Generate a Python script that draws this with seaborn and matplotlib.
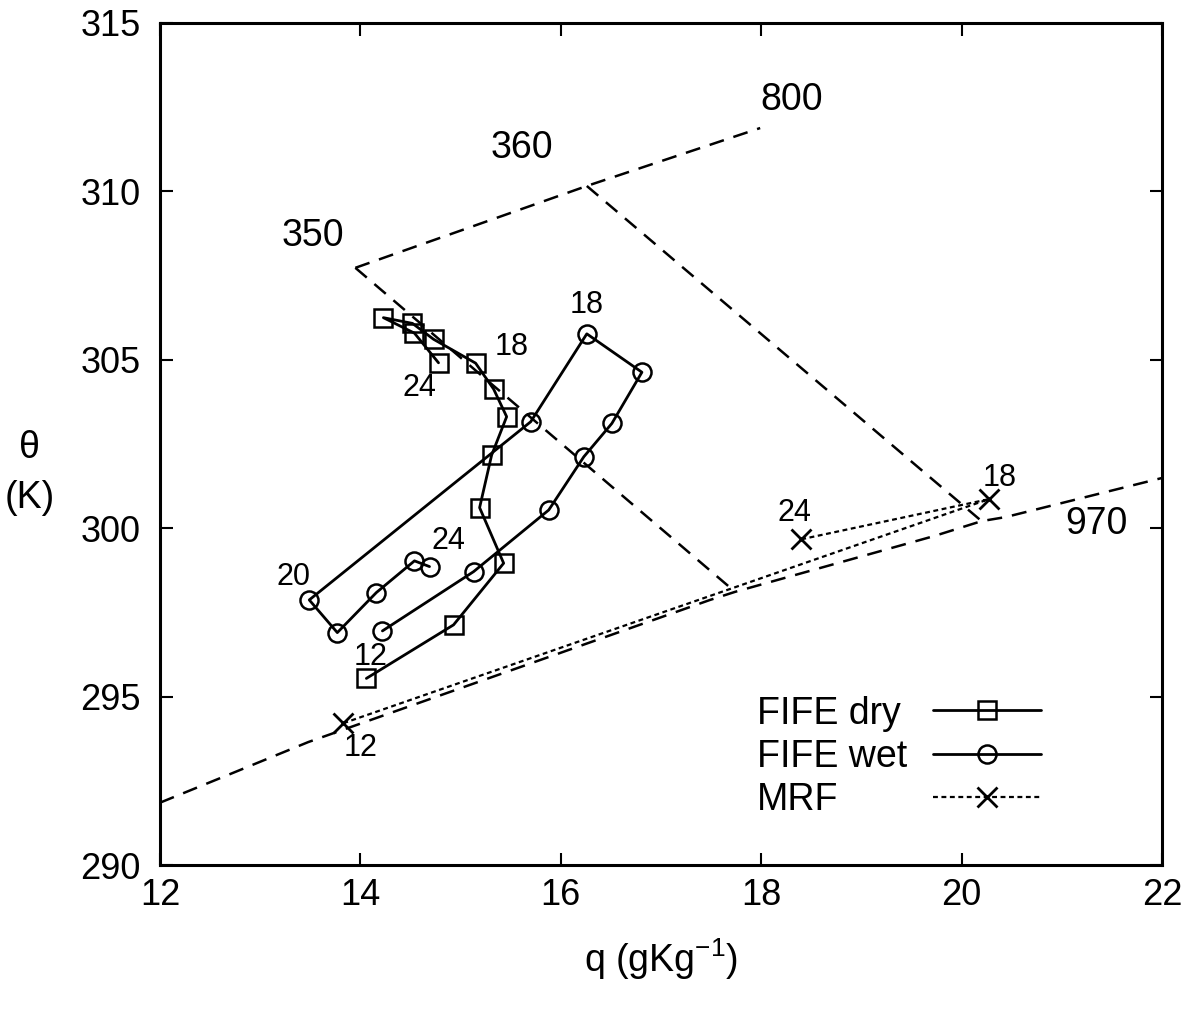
import matplotlib
matplotlib.use("Agg")
import matplotlib.pyplot as plt
from matplotlib.lines import Line2D
import seaborn as sns
import pandas as pd

# FIFE composite diurnal paths (hourly, 12 to 24 local time)
hours = list(range(12, 25))
dry_q = [14.06, 14.93, 15.43, 15.19, 15.31, 15.46, 15.33, 15.15, 14.73, 14.52, 14.23, 14.54, 14.78]
dry_theta = [295.54, 297.13, 298.96, 300.61, 302.17, 303.31, 304.13, 304.90, 305.61, 306.08, 306.25, 305.79, 304.91]
wet_q = [14.22, 15.13, 15.88, 16.23, 16.51, 16.81, 16.26, 15.70, 13.49, 13.77, 14.16, 14.54, 14.69]
wet_theta = [296.95, 298.71, 300.54, 302.12, 303.11, 304.63, 305.77, 303.16, 297.87, 296.90, 298.09, 299.03, 298.86]

# MRF model path
mrf_hours = [12, 18, 24]
mrf_q = [13.83, 20.27, 18.40]
mrf_theta = [294.21, 300.86, 299.67]

# Reference isopleths: saturation at 800 and 970 mb, theta_e = 350 and 360 K
sat800_q = [13.95, 16.26, 17.99]
sat800_theta = [307.73, 310.16, 311.88]
sat970_q = [12.0, 12.7, 13.48, 17.49, 17.74, 19.73, 20.20, 20.44, 22.0]
sat970_theta = [291.85, 292.70, 293.65, 297.87, 298.11, 299.77, 300.21, 300.33, 301.49]
te350_q = [13.95, 17.74]
te350_theta = [307.73, 298.11]
te360_q = [16.26, 20.20]
te360_theta = [310.16, 300.21]

# Hour labels placed next to selected points
hour_labels = ["12", "18", "24", "20", "18", "24", "12", "18", "24"]
hour_label_q = [14.10, 15.51, 14.59, 13.33, 16.26, 14.88, 14.00, 20.38, 18.33]
hour_label_theta = [296.18, 305.38, 304.16, 298.55, 306.63, 299.62, 293.47, 301.49, 300.45]

isopleth_labels = ["350", "360", "800", "970"]
isopleth_label_q = [13.53, 15.61, 18.30, 21.35]
isopleth_label_theta = [308.68, 311.29, 312.71, 300.12]

sns.set_theme(style="white")
plt.rcParams["font.family"] = ["Liberation Sans", "DejaVu Sans"]
plt.rcParams["mathtext.fontset"] = "custom"
plt.rcParams["mathtext.rm"] = "Liberation Sans"
plt.rcParams["text.color"] = "black"
plt.rcParams["axes.labelcolor"] = "black"
plt.rcParams["xtick.color"] = "black"
plt.rcParams["ytick.color"] = "black"

fig = plt.figure(figsize=(11.92, 10.11), dpi=100)
ax = fig.add_axes([0.1342, 0.1444, 0.8406, 0.8329])

dash_style = (0, (6, 4))
guides = [(sat800_q, sat800_theta), (sat970_q, sat970_theta),
          (te350_q, te350_theta), (te360_q, te360_theta)]
for gq, gt in guides:
    sns.lineplot(x=gq, y=gt, ax=ax, sort=False, estimator=None, color="black",
                 lw=1.8, linestyle=dash_style, legend=False)

dry = pd.DataFrame({"hour": hours, "q": dry_q, "theta": dry_theta})
wet = pd.DataFrame({"hour": hours, "q": wet_q, "theta": wet_theta})
mrf = pd.DataFrame({"hour": mrf_hours, "q": mrf_q, "theta": mrf_theta})

sns.lineplot(data=dry, x="q", y="theta", ax=ax, sort=False, estimator=None,
             color="black", lw=2.0, marker="s", markersize=12.5, fillstyle="none",
             markeredgewidth=1.8, markeredgecolor="black", label="FIFE dry")
sns.lineplot(data=wet, x="q", y="theta", ax=ax, sort=False, estimator=None,
             color="black", lw=2.0, marker="o", markersize=13, fillstyle="none",
             markeredgewidth=1.8, markeredgecolor="black", label="FIFE wet")
sns.lineplot(data=mrf, x="q", y="theta", ax=ax, sort=False, estimator=None,
             color="black", lw=1.6, linestyle=(0, (2.2, 1.6)), marker="x",
             markersize=14, markeredgewidth=2.0, markeredgecolor="black", label="MRF")

for t, xq, yt in zip(hour_labels, hour_label_q, hour_label_theta):
    ax.text(xq, yt, t, fontsize=22, ha="center", va="center", color="black")
for t, xq, yt in zip(isopleth_labels, isopleth_label_q, isopleth_label_theta):
    ax.text(xq, yt, t, fontsize=27, ha="center", va="center", color="black")

ax.set_xlim(12, 22)
ax.set_ylim(290, 315)
ax.set_xticks([12, 14, 16, 18, 20, 22])
ax.set_yticks([290, 295, 300, 305, 310, 315])
ax.tick_params(axis="both", which="major", direction="in", length=9, width=1.5,
               labelsize=26, top=True, right=True, bottom=True, left=True,
               colors="black")
ax.tick_params(axis="x", pad=9)
ax.tick_params(axis="y", pad=14)
for s in ax.spines.values():
    s.set_linewidth(2.2)
    s.set_color("black")

ax.set_xlabel("q (gKg$^{-1}$)", fontsize=27, labelpad=17, color="black")
ax.set_ylabel("θ\n(K)", fontsize=27, rotation=0, ha="center", va="center",
              linespacing=1.5, color="black")
ax.yaxis.set_label_coords(-0.13, 0.466)

# Legend: text column left-aligned, symbol column aligned to its right
handles, labels = ax.get_legend_handles_labels()
blank = [Line2D([], [], linestyle="none") for _ in handles]
common = dict(loc="lower left", frameon=False, fontsize=27, labelspacing=0.19,
              borderpad=0, borderaxespad=0, labelcolor="black")
text_leg = ax.legend(blank, labels, bbox_to_anchor=(0.596, 0.056),
                     handlelength=0, handletextpad=0, **common)
ax.add_artist(text_leg)
sym_leg = ax.legend(handles, labels, bbox_to_anchor=(0.771, 0.056),
                    handlelength=2.9, handletextpad=0, **common)
for txt in sym_leg.get_texts():
    txt.set_alpha(0)

fig.savefig("out.png", dpi=100, facecolor="white")
